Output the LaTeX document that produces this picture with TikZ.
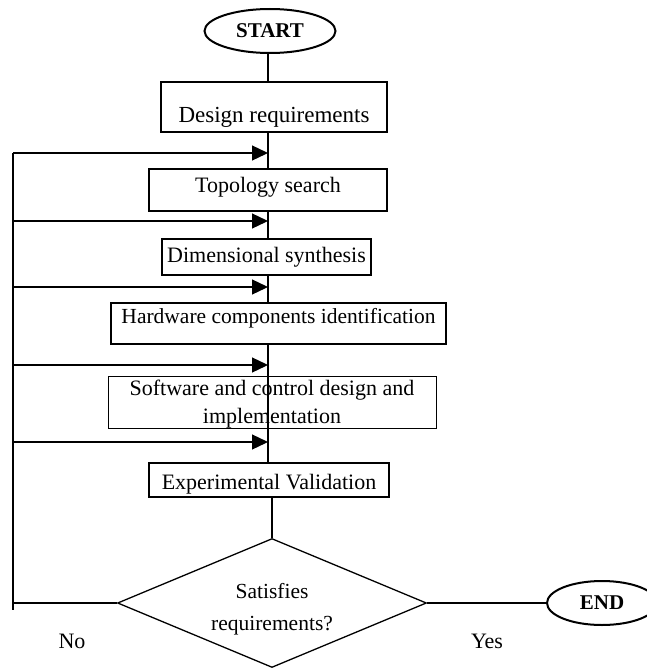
\documentclass[tikz,border=0pt]{standalone}
\usepackage{fontspec}
\setmainfont{Liberation Serif}
\usetikzlibrary{shapes.geometric,arrows.meta}
\begin{document}
\begin{tikzpicture}[x=1pt,y=-1pt,
  every node/.style={font=\fontsize{22}{26}\selectfont, inner sep=0pt},
  stepbox/.style={draw, rectangle, line width=2pt, fill=white},
  thinbox/.style={draw, rectangle, line width=0.9pt, align=center},
  term/.style={draw, ellipse, line width=2pt, fill=white, font=\fontsize{21}{24}\selectfont\bfseries},
  decision/.style={draw, diamond, line width=1.3pt, fill=white, aspect=2.43},
  qtext/.style={anchor=base, font=\fontsize{21.5}{26}\selectfont},
  link/.style={line width=1.3pt},
  fb/.style={line width=1.3pt, -{Triangle[length=16pt,width=15pt]}},
  lbl/.style={font=\fontsize{22}{26}\selectfont}]
\useasboundingbox (0,0) rectangle (646,669);

% column of the main flow and the return rail on the left
\coordinate (axis) at (268,0);
\coordinate (rtop) at (13,153);
\coordinate (rbot) at (13,610);
\coordinate (f1) at (13,153);
\coordinate (f2) at (13,221);
\coordinate (f3) at (13,287);
\coordinate (f4) at (13,365);
\coordinate (f5) at (13,442);
\coordinate (fno) at (13,603);

% terminals and process steps
\node[term, minimum width=131pt, minimum height=44pt] (start) at (270,31) {START};
\node[stepbox, minimum width=226pt, minimum height=50pt, text height=30pt, text depth=0pt,
      font=\fontsize{23}{26}\selectfont] (design) at (274,107) {Design requirements};
\node[stepbox, minimum width=238pt, minimum height=42pt, text height=8pt, text depth=4pt] (topo) at (268,190) {Topology search};
\node[stepbox, minimum width=209pt, minimum height=36pt, text height=14pt, text depth=4pt] (dim) at (266.5,257) {Dimensional synthesis};
\node[stepbox, minimum width=335pt, minimum height=41pt, text height=8pt, text depth=9pt,
      font=\fontsize{21.5}{26}\selectfont] (hw) at (278.5,323.5) {Hardware components identification};
\node[thinbox, minimum width=328pt, minimum height=52pt, text depth=0pt,
      font=\fontsize{22}{28}\selectfont] (sw) at (272,402) {Software and control design and\\implementation};
\node[stepbox, minimum width=240pt, minimum height=34pt, text height=18pt, text depth=0pt] (exp) at (269,480) {Experimental Validation};
\node[decision, minimum width=309pt, minimum height=129pt] (dec) at (272,603) {};
\node[qtext] (q1) at (272,598) {Satisfies};
\node[qtext] (q2) at (272,630) {requirements?};
\node[term, minimum width=110pt, minimum height=44pt] (end) at (602,603) {END};

% main flow
\draw[link] (start.south -| axis) -- (design.north -| axis);
\draw[link] (design.south -| axis) -- (topo.north -| axis);
\draw[link] (topo.south -| axis) -- (dim.north -| axis);
\draw[link] (dim.south -| axis) -- (hw.north -| axis);
\draw[link] (hw.south -| axis) -- (exp.north -| axis);
\draw[link] (exp.south -| dec.north) -- (dec.north);
\draw[link] (dec.east) -- (end.west);

% return rail
\draw[link] (rtop) -- (rbot);
\draw[link] (dec.west) -- (fno);
\draw[fb] (f1) -- (f1 -| axis);
\draw[fb] (f2) -- (f2 -| axis);
\draw[fb] (f3) -- (f3 -| axis);
\draw[fb] (f4) -- (f4 -| axis);
\draw[fb] (f5) -- (f5 -| axis);

% branch labels
\node[lbl] (no) at (72,641) {No};
\node[lbl] (yes) at (487,641) {Yes};
\end{tikzpicture}
\end{document}
